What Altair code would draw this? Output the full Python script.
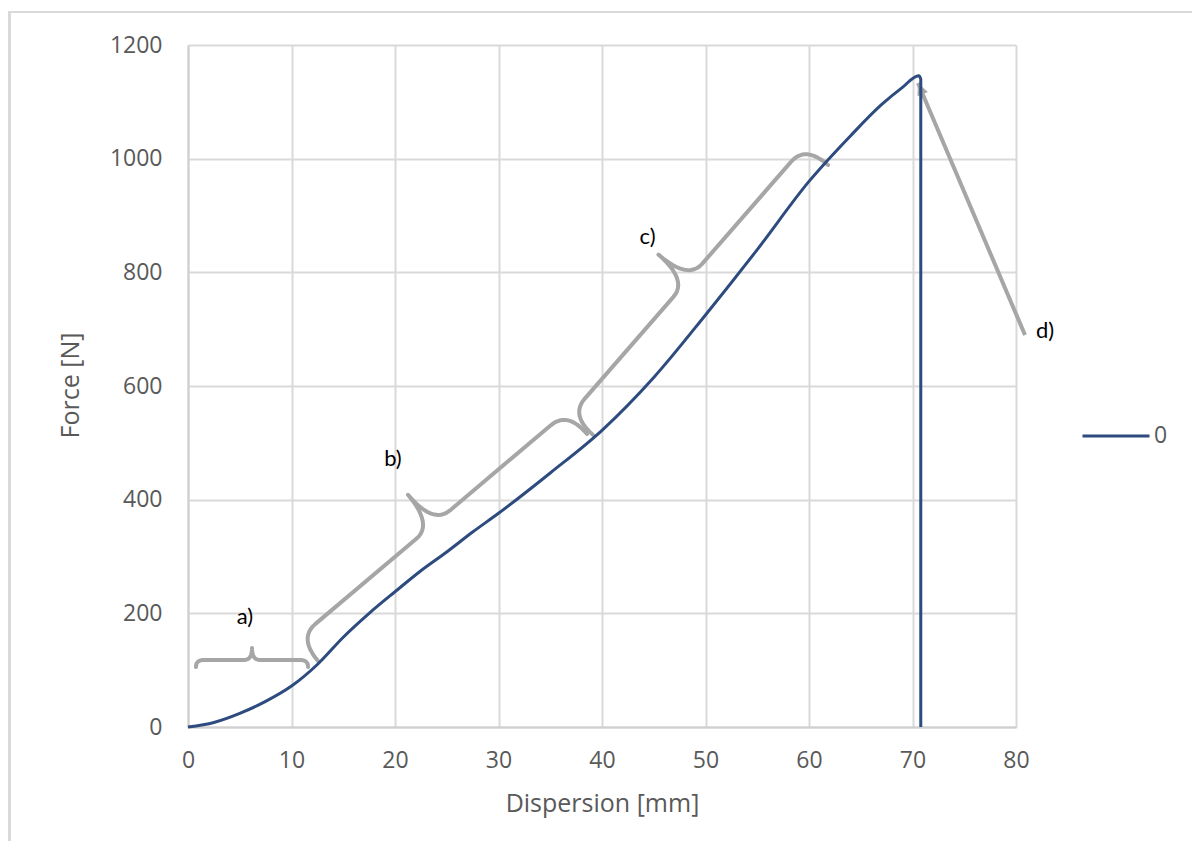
import math
import altair as alt
import pandas as pd

# ---- data -------------------------------------------------------------
disp = [0, 2.5, 5, 7.5, 10, 12.5, 15, 17.5, 20, 22.5, 25, 27.5, 30, 35, 40, 45,
        50, 55, 60, 64, 67, 69, 70.6, 70.8, 70.8]
force = [0, 8, 24, 45, 72, 110, 158, 200, 238, 275, 308, 343, 376, 447, 522, 615,
         725, 840, 960, 1040, 1095, 1125, 1146, 1140, 0]
series_name = "0"

x_ticks = [0, 10, 20, 30, 40, 50, 60, 70, 80]
y_ticks = [0, 200, 400, 600, 800, 1000, 1200]

# annotation braces (end points in data units)
brace_ids = ["a", "b", "c"]
brace_x0 = [0.77, 12.56, 39.13]
brace_y0 = [105.6, 116.1, 514.0]
brace_x1 = [11.6, 38.55, 61.84]
brace_y1 = [105.6, 515.5, 988.9]

label_text = ["a)", "b)", "c)", "d)"]
label_x = [5.5, 19.8, 44.4, 82.8]
label_y = [193.5, 471.6, 862.0, 697.0]

arrow_tail = (80.87, 689.7)
arrow_tip = (70.53, 1133.0)

# ---- layout / style ---------------------------------------------------
W, H = 828, 682
XMAX, YMAX = 80, 1200
LINE_COLOR = "#2d4b7e"
ANN_COLOR = "#a6a6a6"
GRID = "#d9d9d9"
TXT = "#595959"
FONT = "Open Sans"

brace_h = [7, 30, 30]
brace_w = [19, 69, 69]
brace_r = [8, 22, 22]


def to_px(x, y):
    return x * W / XMAX, H - y * H / YMAX


def to_data(px, py):
    return px * XMAX / W, (H - py) * YMAX / H


def quad(p0, c, p1, n=12):
    pts = []
    for i in range(n + 1):
        t = i / n
        a, b, d = (1 - t) ** 2, 2 * (1 - t) * t, t * t
        pts.append((a * p0[0] + b * c[0] + d * p1[0], a * p0[1] + b * c[1] + d * p1[1]))
    return pts


def brace_path(x0, y0, x1, y1, h, w, r):
    P0 = to_px(x0, y0)
    P1 = to_px(x1, y1)
    dx, dy = P1[0] - P0[0], P1[1] - P0[1]
    L = math.hypot(dx, dy)
    t = (dx / L, dy / L)
    n = (t[1], -t[0])
    M = ((P0[0] + P1[0]) / 2, (P0[1] + P1[1]) / 2)

    def add(p, *vs):
        x, y = p
        for k, v in vs:
            x += k * v[0]
            y += k * v[1]
        return (x, y)

    pts = []
    pts += quad(P0, add(P0, (h, n)), add(P0, (h, n), (r, t)))
    pts += quad(add(M, (h, n), (-r, t)), add(M, (h, n)), add(M, (w, n)))
    pts += quad(add(M, (w, n)), add(M, (h, n)), add(M, (h, n), (r, t)))
    pts += quad(add(P1, (h, n), (-r, t)), add(P1, (h, n)), P1)
    return [to_data(px, py) for px, py in pts]


rows = []
for i, bid in enumerate(brace_ids):
    pts = brace_path(brace_x0[i], brace_y0[i], brace_x1[i], brace_y1[i],
                     brace_h[i], brace_w[i], brace_r[i])
    for k, (x, y) in enumerate(pts):
        rows.append({"id": bid, "k": k, "x": x, "y": y})
brace_df = pd.DataFrame(rows)

main_df = pd.DataFrame({"x": disp, "y": force, "k": list(range(len(disp))),
                        "series": [series_name] * len(disp)})
label_df = pd.DataFrame({"t": label_text, "x": label_x, "y": label_y})
arrow_df = pd.DataFrame({"x": [arrow_tail[0], arrow_tip[0]],
                         "y": [arrow_tail[1], arrow_tip[1]], "k": [0, 1]})

tpx = to_px(*arrow_tail)
hpx = to_px(*arrow_tip)
ang = math.degrees(math.atan2(hpx[0] - tpx[0], -(hpx[1] - tpx[1]))) % 360
head_df = pd.DataFrame({"x": [arrow_tip[0]], "y": [arrow_tip[1]]})

xs = alt.Scale(domain=[0, XMAX], nice=False, zero=False)
ys = alt.Scale(domain=[0, YMAX], nice=False, zero=False)

x_axis = alt.Axis(values=x_ticks, format="d", title="Dispersion [mm]", grid=True,
                  gridColor=GRID, gridWidth=2, domainColor="#cfcfcf", domainWidth=2,
                  ticks=False, tickSize=0, labelFlush=False, labelOverlap=False,
                  labelFont=FONT, labelFontSize=23, labelColor=TXT, labelPadding=22,
                  titleFont=FONT, titleFontSize=25, titleColor=TXT, titleFontWeight="normal",
                  titleBaseline="alphabetic", titleY=84, titleX=W / 2)
y_axis = alt.Axis(values=y_ticks, format="d", title="Force [N]", grid=True, gridColor=GRID,
                  gridWidth=2, domainColor="#cfcfcf", domainWidth=2, ticks=False, tickSize=0,
                  labelFlush=False, labelOverlap=False,
                  labelFont=FONT, labelFontSize=23, labelColor=TXT, labelPadding=26,
                  titleFont=FONT, titleFontSize=25, titleColor=TXT, titleFontWeight="normal",
                  titleBaseline="alphabetic", titleAngle=270, titleX=-110, titleY=340,
                  titleAlign="center")

main = alt.Chart(main_df).mark_line(strokeWidth=3, interpolate="monotone").encode(
    x=alt.X("x:Q", scale=xs, axis=x_axis),
    y=alt.Y("y:Q", scale=ys, axis=y_axis),
    order="k:Q",
    color=alt.Color("series:N", scale=alt.Scale(range=[LINE_COLOR]),
                    legend=alt.Legend(title=None, orient="none", legendX=893, legendY=356,
                                      symbolType="stroke", symbolSize=4489,
                                      symbolStrokeWidth=3, labelFont=FONT,
                                      labelFontSize=23, labelColor=TXT, labelOffset=3,
                                      padding=0)),
)

braces = alt.Chart(brace_df).mark_line(strokeWidth=4, color=ANN_COLOR,
                                       strokeCap="round", strokeJoin="round").encode(
    x=alt.X("x:Q", scale=xs), y=alt.Y("y:Q", scale=ys), detail="id:N", order="k:Q")

arrow = alt.Chart(arrow_df).mark_line(strokeWidth=4, color=ANN_COLOR).encode(
    x=alt.X("x:Q", scale=xs), y=alt.Y("y:Q", scale=ys), order="k:Q")

head = alt.Chart(head_df).mark_point(shape="M0,0L-0.75,1.6L0.75,1.6Z", size=225,
                                     filled=True, opacity=1, color=ANN_COLOR,
                                     angle=ang).encode(
    x=alt.X("x:Q", scale=xs), y=alt.Y("y:Q", scale=ys))

labels = alt.Chart(label_df).mark_text(font="Lato", fontSize=22, color="#000000",
                                       align="center", baseline="middle").encode(
    x=alt.X("x:Q", scale=xs), y=alt.Y("y:Q", scale=ys), text="t:N")

border_top = alt.Chart(main_df).mark_rule(color=GRID, strokeWidth=2).encode(
    x=alt.value(-180), x2=alt.value(W + 176), y=alt.value(-33))
border_left = alt.Chart(main_df).mark_rule(color=GRID, strokeWidth=3).encode(
    x=alt.value(-179), y=alt.value(-33), y2=alt.value(H + 114))

chart = alt.layer(border_top, border_left, braces, arrow, head, main, labels).properties(
    width=W, height=H,
    padding={"left": 180, "top": 37, "right": 176, "bottom": 114},
    autosize=alt.AutoSizeParams(type="none"),
    background="white",
).configure_view(stroke=None)

chart.save("out.html", embed_options={"renderer": "svg", "actions": False})
